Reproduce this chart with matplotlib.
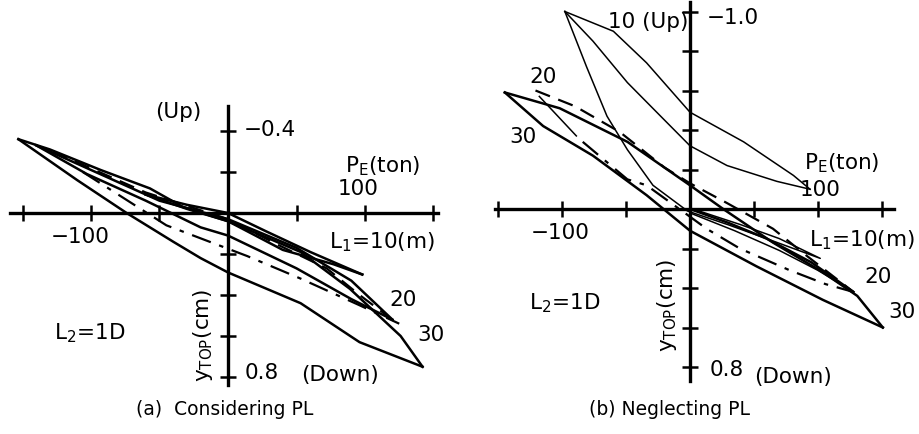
"""Pile-top displacement vs. pile load hysteresis loops, two panels:
(a) considering PL, (b) neglecting PL. Values read off a scanned figure."""
import matplotlib
matplotlib.use("Agg")
import matplotlib.pyplot as plt

W, H = 920, 435

# ---- panel (a): considering PL  (x = P_E ton, y = y_TOP cm, down positive)
a30_upper_x = [-153, -130, -93, -57, -33, 0, 53, 89, 126, 142]
a30_upper_y = [-0.36, -0.31, -0.21, -0.12, -0.03, 0.04, 0.19, 0.37, 0.60, 0.75]
a30_lower_x = [-153, -110, -74, -40, -20, 0, 53, 96, 142]
a30_lower_y = [-0.36, -0.16, 0.0, 0.14, 0.22, 0.29, 0.44, 0.63, 0.75]

a20_upper_x = [-140, -100, -50, 0, 50, 90, 120]
a20_upper_y = [-0.33, -0.21, -0.06, 0.03, 0.17, 0.33, 0.52]
a20_lower_x = [-140, -103, -60, -20, 0, 50, 90, 120]
a20_lower_y = [-0.33, -0.19, -0.06, 0.07, 0.11, 0.27, 0.42, 0.52]

a10_upper_x = [-60, -30, 0, 28, 60, 98]
a10_upper_y = [-0.09, -0.04, 0.0, 0.09, 0.19, 0.30]
a10_lower_x = [-60, -30, 0, 40, 77, 98]
a10_lower_y = [-0.09, -0.02, 0.04, 0.18, 0.25, 0.30]

a_dashdot_x = [-106, -45, 14, 53, 96, 125]
a_dashdot_y = [-0.20, 0.06, 0.21, 0.32, 0.45, 0.54]
a_dash_x = [-128, -60, 0, 38, 72, 96, 116]
a_dash_y = [-0.30, -0.10, 0.03, 0.16, 0.27, 0.40, 0.50]

# ---- panel (b): neglecting PL
b10_a_x = [-98, -60, -34, 0, 42, 81, 94]
b10_a_y = [-1.0, -0.90, -0.74, -0.49, -0.34, -0.17, -0.10]
b10_b_x = [-98, -76, -49, -23, 0, 29, 68, 94]
b10_b_y = [-1.0, -0.85, -0.64, -0.47, -0.32, -0.22, -0.14, -0.10]
b10_c_x = [-98, -81, -65, -49, -29, -2, 30, 60, 102, 70, 40, 0]
b10_c_y = [-1.0, -0.72, -0.47, -0.30, -0.12, 0.01, 0.08, 0.15, 0.25, 0.15, 0.08, -0.005]

b30_upper_x = [-145, -102, -49, 0, 26, 65, 104, 131, 151]
b30_upper_y = [-0.59, -0.51, -0.34, -0.12, 0.0, 0.17, 0.32, 0.44, 0.60]
b30_lower_x = [-145, -115, -76, -34, 0, 52, 104, 151]
b30_lower_y = [-0.59, -0.42, -0.27, -0.07, 0.11, 0.29, 0.46, 0.60]

b20_dash_up_x = [-121, -90, -55, -20, 0, 29, 65, 92, 128]
b20_dash_up_y = [-0.60, -0.52, -0.39, -0.21, -0.13, -0.03, 0.10, 0.24, 0.42]
b20_dash_lo_x = [-84, -49, -34, 13, 39, 78, 106, 128]
b20_dash_lo_y = [-0.34, -0.15, -0.12, 0.10, 0.20, 0.31, 0.38, 0.42]
b20_seg_x = [-118, -89]
b20_seg_y = [-0.57, -0.37]
b20_solid_up_x = [0, 30, 60, 95, 128]
b20_solid_up_y = [0.0, 0.07, 0.15, 0.27, 0.42]
b20_solid_lo_x = [0, 35, 70, 100, 128]
b20_solid_lo_y = [0.02, 0.11, 0.21, 0.31, 0.42]

x_ticks = [-150, -100, -50, 0, 50, 100, 150]
a_y_ticks = [-0.4, -0.2, 0.0, 0.2, 0.4, 0.6, 0.8]
b_y_ticks = [-1.0, -0.8, -0.6, -0.4, -0.2, 0.0, 0.2, 0.4, 0.6, 0.8]

plt.rcParams["font.family"] = "DejaVu Sans"
BIG = 15.5
fig = plt.figure(figsize=(W / 100, H / 100), dpi=100)


def px(x, y):
    return x / W, 1 - y / H


def make_panel(x0, y0, w, h, xlim, ylim, xbounds, ybounds, yticks):
    ax = fig.add_axes([x0 / W, 1 - (y0 + h) / H, w / W, h / H])
    ax.set_xlim(*xlim)
    ax.set_ylim(*ylim)
    ax.patch.set_alpha(0)
    for s in ("top", "right"):
        ax.spines[s].set_visible(False)
    for s in ("left", "bottom"):
        ax.spines[s].set_position(("data", 0))
        ax.spines[s].set_linewidth(2.4)
    ax.spines["bottom"].set_bounds(*xbounds)
    ax.spines["left"].set_bounds(*ybounds)
    ax.set_xticks(x_ticks)
    ax.set_yticks(yticks)
    ax.tick_params(direction="inout", length=11, width=1.8,
                   labelbottom=False, labelleft=False)
    return ax


solid = dict(color="black", lw=1.8, solid_joinstyle="round")
thin = dict(color="black", lw=1.1)
dashed = dict(color="black", lw=1.6, linestyle=(0, (7, 4)))
dashdot = dict(color="black", lw=1.6, linestyle=(0, (9, 4, 2, 4)))

# panel (a): pixel mapping x = 228 + 1.37*P, y = 214 + 205*yTop
ax_a = make_panel(0, 0, 460, 395, (-228 / 1.37, 232 / 1.37), (181 / 205, -214 / 205),
                  (-159, 153), (-0.52, 0.84), a_y_ticks)
ax_a.plot(a30_upper_x, a30_upper_y, **solid)
ax_a.plot(a30_lower_x, a30_lower_y, **solid)
ax_a.plot(a20_upper_x, a20_upper_y, **solid)
ax_a.plot(a20_lower_x, a20_lower_y, **solid)
ax_a.plot(a10_upper_x, a10_upper_y, **solid)
ax_a.plot(a10_lower_x, a10_lower_y, **solid)
ax_a.plot(a_dashdot_x, a_dashdot_y, **dashdot)
ax_a.plot(a_dash_x, a_dash_y, **dashed)

# panel (b): pixel mapping x = 690 + 1.277*P, y = 210 + 197.5*yTop
ax_b = make_panel(460, 0, 460, 395, (-230 / 1.277, 230 / 1.277), (185 / 197.5, -210 / 197.5),
                  (-153, 160), (-1.05, 0.87), b_y_ticks)
ax_b.plot(b10_a_x, b10_a_y, **thin)
ax_b.plot(b10_b_x, b10_b_y, **thin)
ax_b.plot(b10_c_x, b10_c_y, **thin)
ax_b.plot(b30_upper_x, b30_upper_y, **solid)
ax_b.plot(b30_lower_x, b30_lower_y, **solid)
ax_b.plot(b20_dash_up_x, b20_dash_up_y, **dashed)
ax_b.plot(b20_dash_lo_x, b20_dash_lo_y, **dashdot)
ax_b.plot(b20_seg_x, b20_seg_y, **thin)
ax_b.plot(b20_solid_up_x, b20_solid_up_y, **solid)
ax_b.plot(b20_solid_lo_x, b20_solid_lo_y, **thin)


def label(x, y, s, ha="center", size=BIG, **kw):
    fig.text(*px(x, y), s, ha=ha, va="center", fontsize=size, **kw)


# panel (a) labels
label(178, 112, "(Up)")
label(244, 130, "\u22120.4", ha="left")
label(383, 166, r"P$_\mathregular{E}$(ton)")
label(358, 189, "100")
label(80, 237, "\u2212100")
label(382, 242, r"L$_\mathregular{1}$=10(m)")
label(403, 300, "20")
label(431, 335, "30")
label(90, 333, r"L$_\mathregular{2}$=1D")
label(203, 335, r"y$_\mathregular{TOP}$(cm)", rotation=90)
label(245, 373, "0.8", ha="left")
label(340, 375, "(Down)")

# panel (b) labels
label(648, 22, "10 (Up)")
label(707, 18, "\u22121.0", ha="left")
label(543, 77, "20")
label(523, 137, "30")
label(842, 163, r"P$_\mathregular{E}$(ton)")
label(820, 190, "100")
label(560, 233, "\u2212100")
label(862, 240, r"L$_\mathregular{1}$=10(m)")
label(878, 277, "20")
label(902, 312, "30")
label(565, 303, r"L$_\mathregular{2}$=1D")
label(667, 305, r"y$_\mathregular{TOP}$(cm)", rotation=90)
label(710, 370, "0.8", ha="left")
label(793, 377, "(Down)")

# captions
label(225, 410, "(a)  Considering PL", size=13.5)
label(670, 410, "(b) Neglecting PL", size=13.5)

fig.savefig("out.png", dpi=100, facecolor="white")
